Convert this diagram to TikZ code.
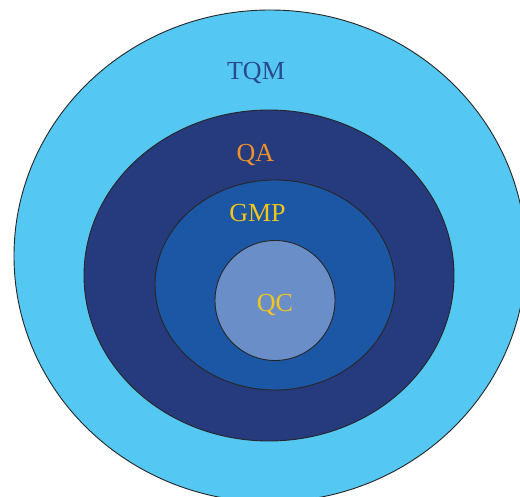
\documentclass[tikz,border=0pt]{standalone}
\usepackage{fontspec}
\setmainfont{Liberation Serif}
\definecolor{outerblue}{HTML}{54C8F2}
\definecolor{navy}{HTML}{263A7E}
\definecolor{midblue}{HTML}{1C57A5}
\definecolor{innerblue}{HTML}{6A8FC8}
\definecolor{tqmcol}{HTML}{2A4A8E}
\definecolor{qacol}{HTML}{F0922A}
\definecolor{gold}{HTML}{F6C51A}
\begin{document}
\begin{tikzpicture}[x=1pt,y=-1pt,
  ring/.style={draw=black!85, line width=0.9pt},
  lbl/.style={anchor=base, inner sep=0pt, font=\fontsize{26}{30}\selectfont}]
\useasboundingbox (0,0) rectangle (520,497);
\clip (0,0) rectangle (520,497);
\fill[white] (0,0) rectangle (520,497);
\draw[ring, fill=outerblue] (270,256) ellipse [x radius=256, y radius=246];
\draw[ring, fill=navy] (269,275.5) ellipse [x radius=185, y radius=165.5];
\draw[ring, fill=midblue] (275,285) ellipse [x radius=120, y radius=105];
\draw[ring, fill=innerblue] (275,300.5) circle [radius=60];
\node[lbl, text=tqmcol] (tqm) at (256,80) {TQM};
\node[lbl, text=qacol] (qa) at (255.5,162) {QA};
\node[lbl, text=gold] (gmp) at (257.5,222) {GMP};
\node[lbl, text=gold] (qc) at (275,312) {QC};
\end{tikzpicture}
\end{document}
